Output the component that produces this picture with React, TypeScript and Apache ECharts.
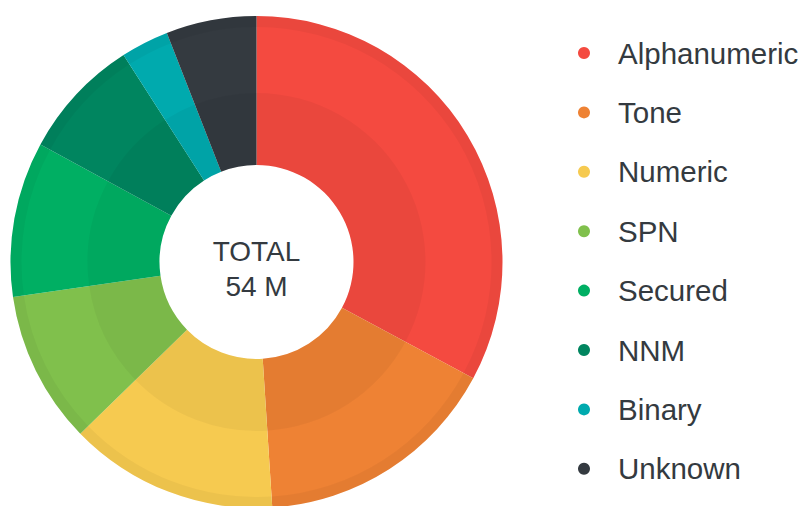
import React, { useEffect, useRef } from "react";
import * as echarts from "echarts";

const categories = ["Alphanumeric", "Tone", "Numeric", "SPN", "Secured", "NNM", "Binary", "Unknown"];
const values = [17.7, 8.7, 7.4, 5.4, 5.5, 4.3, 1.7, 3.2];
const colors = ["#F44A40", "#EE8234", "#F6CA50", "#80C04C", "#00AF63", "#00855F", "#00AAAE", "#343A40"];
const centerLines = ["TOTAL", "54 M"];

export default function App() {
  const ref = useRef<HTMLDivElement>(null);
  useEffect(() => {
    const chart = echarts.init(ref.current!, null, { renderer: "svg" });
    const data = categories.map((n, i) => ({ name: n, value: values[i], itemStyle: { color: colors[i] } }));
    const shade = values.map((v) => ({ name: "", value: v }));
    const center = [256.5, 262];
    const font = "'Liberation Sans', Arial, Helvetica, sans-serif";
    chart.setOption({
      animation: false,
      legend: {
        orient: "vertical",
        left: 573,
        top: 33,
        data: categories,
        icon: "circle",
        itemWidth: 58,
        itemHeight: 12,
        itemGap: 29.4,
        textStyle: { fontSize: 29.5, lineHeight: 30, color: "#343A40", fontFamily: font },
        selectedMode: false,
      },
      series: [
        {
          type: "pie",
          center,
          radius: [97, 246],
          startAngle: 90,
          clockwise: true,
          label: { show: false },
          labelLine: { show: false },
          emphasis: { disabled: true },
          itemStyle: { borderWidth: 0 },
          data,
        },
        {
          type: "pie",
          center,
          radius: [97, 169],
          startAngle: 90,
          silent: true,
          label: { show: false },
          labelLine: { show: false },
          emphasis: { disabled: true },
          itemStyle: { color: "rgba(0,0,0,0.04)", borderWidth: 0 },
          data: shade,
        },
        {
          type: "pie",
          center,
          radius: [235, 246],
          startAngle: 90,
          silent: true,
          label: { show: false },
          labelLine: { show: false },
          emphasis: { disabled: true },
          itemStyle: { color: "rgba(0,0,0,0.04)", borderWidth: 0 },
          data: shade,
        },
      ],
      graphic: [
        {
          type: "text",
          x: 256.5,
          y: 251,
          style: { text: centerLines[0], fontSize: 28, fill: "#343A40", fontFamily: font, textAlign: "center", textVerticalAlign: "middle" },
        },
        {
          type: "text",
          x: 256.5,
          y: 286.5,
          style: { text: centerLines[1], fontSize: 28, fill: "#343A40", fontFamily: font, textAlign: "center", textVerticalAlign: "middle" },
        },
      ],
    });
    return () => chart.dispose();
  }, []);
  return <div ref={ref} style={{ width: 801, height: 506, position: "absolute", left: 0, top: 0 }} />;
}
